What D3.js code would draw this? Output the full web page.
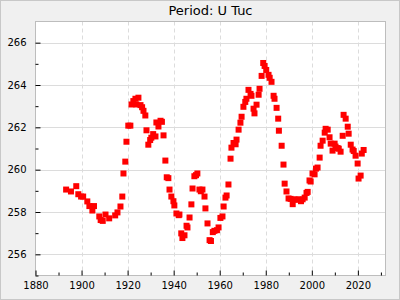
<!DOCTYPE html>
<html><head><meta charset="utf-8">
<script src="https://cdn.jsdelivr.net/npm/d3@7"></script>
<style>html,body{margin:0;padding:0;background:#f0f0f0;}svg{display:block;}</style>
</head><body>
<script>
const title = "Period: U Tuc";
const years = [1893.3,1895.4,1897.7,1898.6,1899.8,1900.7,1902.5,1903.4,1905.4,1904.7,1907.7,1908.3,1909.2,1910.4,1912.0,1914.6,1915.6,1916.9,1917.7,1918.2,1919.0,1919.5,1920.3,1921.2,1921.7,1922.5,1923.4,1923.8,1924.7,1925.6,1926.3,1926.9,1927.7,1928.2,1929.0,1929.8,1930.3,1931.1,1932.1,1932.5,1933.4,1934.3,1934.9,1935.6,1936.4,1937.0,1937.7,1938.2,1939.0,1939.9,1940.3,1941.2,1942.2,1942.5,1943.3,1943.8,1944.7,1945.6,1946.0,1946.9,1947.7,1948.2,1949.0,1949.7,1950.3,1951.2,1951.8,1952.5,1953.4,1953.8,1954.7,1955.6,1956.2,1957.0,1957.7,1958.8,1959.5,1960.3,1961.2,1961.7,1962.5,1963.0,1963.8,1964.7,1965.1,1966.0,1966.9,1967.3,1968.2,1969.0,1969.5,1970.3,1971.1,1971.6,1972.5,1973.4,1973.8,1974.7,1975.1,1976.0,1976.9,1977.3,1978.2,1978.9,1979.5,1980.2,1981.2,1981.7,1982.5,1983.4,1983.8,1984.7,1985.4,1985.7,1986.9,1987.7,1988.2,1989.0,1989.9,1990.8,1991.7,1992.5,1993.4,1994.3,1995.3,1996.0,1996.9,1997.7,1998.2,1999.0,1999.5,2000.3,2001.2,2001.8,2002.5,2003.4,2003.8,2004.7,2005.6,2006.0,2006.9,2007.7,2008.2,2009.0,2009.9,2010.3,2011.2,2011.7,2012.5,2013.4,2013.8,2014.7,2015.6,2016.0,2016.9,2017.7,2018.2,2019.0,2019.9,2020.3,2021.2,2021.7,2022.5];
const periods = [259.06,258.97,259.22,258.84,258.73,258.73,258.50,258.28,258.28,258.07,257.79,257.62,257.58,257.88,257.70,257.84,257.98,258.26,258.73,259.82,260.38,261.32,262.08,262.08,263.08,263.24,263.35,263.08,263.40,263.05,262.95,262.78,262.56,261.86,261.18,261.40,261.51,261.68,261.57,262.23,262.04,262.31,262.26,261.62,260.43,259.64,259.60,259.06,258.73,258.51,258.31,257.93,257.85,257.88,256.99,256.77,256.90,257.35,257.27,257.74,258.36,259.11,259.69,259.74,259.82,259.06,258.98,259.06,258.73,258.17,257.46,256.67,256.63,257.05,257.11,257.14,257.27,257.72,257.79,258.26,258.68,258.78,259.30,260.52,261.04,261.26,261.20,261.42,261.89,262.22,262.50,262.97,263.20,263.35,263.77,263.58,263.49,262.88,262.66,263.07,263.54,263.82,264.43,265.04,264.90,264.71,264.48,264.34,264.15,263.49,263.35,262.92,262.41,261.84,261.13,260.24,259.34,258.97,258.64,258.62,258.37,258.59,258.59,258.59,258.51,258.60,258.68,258.90,258.95,259.49,259.44,259.82,259.78,260.05,260.10,260.57,261.13,261.37,261.75,261.93,261.89,261.53,261.23,260.90,261.23,261.09,261.02,260.99,260.85,261.60,262.59,262.41,262.03,261.70,261.18,260.95,260.88,260.66,260.29,259.58,259.72,260.76,260.93];
const xMajorTicks = [1880,1900,1920,1940,1960,1980,2000,2020];
const xMinorTicks = [1890,1910,1930,1950,1970,1990,2010,2030];
const yMajorTicks = [256,258,260,262,264,266];
const yMinorTicks = [255,257,259,261,263,265];

const W = 400, H = 300;
const L = 35.5, R = 385.5, T = 21.5, B = 275.5;
const svg = d3.select("body").append("svg").attr("width", W).attr("height", H);
svg.append("rect").attr("x",0.5).attr("y",0.5).attr("width",W-1).attr("height",H-1)
  .attr("fill","#f0f0f0").attr("stroke","#c8c8c8");
const x = d3.scaleLinear().domain([1880, 2032]).range([L, R]);
const y = d3.scaleLinear().domain([255, 267]).range([B, T]);

svg.append("rect").attr("x",L).attr("y",T).attr("width",R-L).attr("height",B-T).attr("fill","#fff");

const grid = svg.append("g");
grid.selectAll("line.h").data(yMajorTicks).enter().append("line")
  .attr("x1",L).attr("x2",R).attr("y1",d=>Math.round(y(d))+0.5).attr("y2",d=>Math.round(y(d))+0.5)
  .attr("stroke","#dcdcdc");
grid.selectAll("line.v").data(xMajorTicks.filter(d=>d>1880)).enter().append("line")
  .attr("y1",T).attr("y2",B).attr("x1",d=>Math.round(x(d))+0.5).attr("x2",d=>Math.round(x(d))+0.5)
  .attr("stroke","#dcdcdc").attr("stroke-dasharray","4,3");

const pts = years.map((yr,i)=>({yr, v: periods[i]}));
const s = 6;
svg.append("g").selectAll("rect").data(pts).enter().append("rect")
  .attr("x", d=>x(d.yr)-s/2).attr("y", d=>y(d.v)-s/2).attr("width",s).attr("height",s)
  .attr("fill","#ff0000");

svg.append("rect").attr("x",L).attr("y",T).attr("width",R-L).attr("height",B-T)
  .attr("fill","none").attr("stroke","#bdbdbd");

const font = "DejaVu Sans, sans-serif";
// x axis ticks
const xa = svg.append("g").attr("transform",`translate(0,${B})`)
  .call(d3.axisBottom(x).tickValues(xMajorTicks).tickSize(-5).tickFormat(d3.format("d")));
xa.select(".domain").remove();
xa.selectAll("text").attr("font-family",font).attr("font-size",10).attr("fill","#000").attr("dy","1.05em");
xa.selectAll("line").attr("stroke","#000");
const xm = svg.append("g").attr("transform",`translate(0,${B})`)
  .call(d3.axisBottom(x).tickValues(xMinorTicks).tickSize(-3).tickFormat(""));
xm.select(".domain").remove();
xm.selectAll("line").attr("stroke","#000");
// y axis ticks
const ya = svg.append("g").attr("transform",`translate(${L},0)`)
  .call(d3.axisLeft(y).tickValues(yMajorTicks).tickSize(-5).tickFormat(d3.format("d")));
ya.select(".domain").remove();
ya.selectAll("text").attr("font-family",font).attr("font-size",10).attr("fill","#000").attr("x",-9);
ya.selectAll("line").attr("stroke","#000");
const ym = svg.append("g").attr("transform",`translate(${L},0)`)
  .call(d3.axisLeft(y).tickValues(yMinorTicks).tickSize(-3).tickFormat(""));
ym.select(".domain").remove();
ym.selectAll("line").attr("stroke","#000");

svg.append("text").attr("x",(L+R)/2).attr("y",15).attr("text-anchor","middle")
  .attr("font-family",font).attr("font-size",13).attr("fill","#000").text(title);
</script>
</body></html>
